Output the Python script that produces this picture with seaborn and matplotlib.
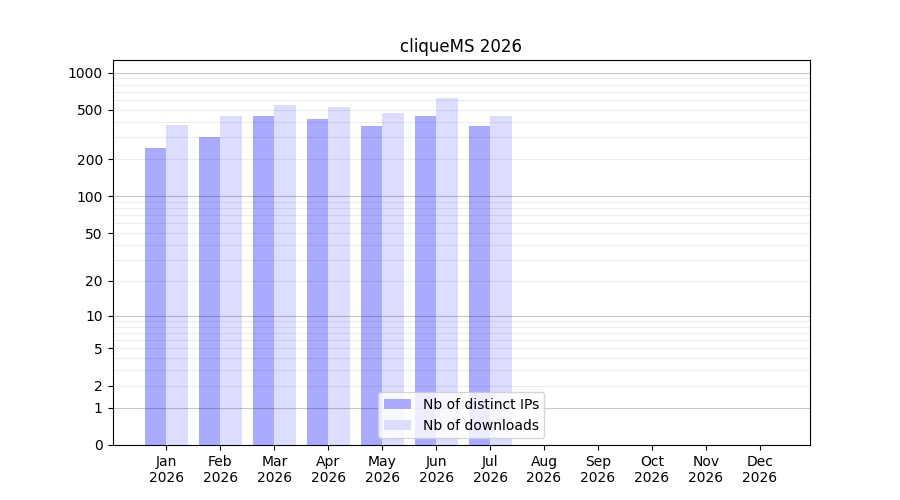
import numpy as np
import pandas as pd
import matplotlib
matplotlib.use("Agg")
import matplotlib.pyplot as plt
import seaborn as sns

# dane
miesiace = ['Jan', 'Feb', 'Mar', 'Apr', 'May', 'Jun', 'Jul', 'Aug', 'Sep', 'Oct', 'Nov', 'Dec']
rok = '2026'
distinct_ips = [247, 303, 448, 423, 372, 448, 372]
downloads = [379, 448, 549, 529, 473, 625, 448]
serie = ['Nb of distinct IPs', 'Nb of downloads']
kolory = ['#aaaaff', '#ddddff']
y_ticki = [0, 1, 2, 5, 10, 20, 50, 100, 200, 500, 1000]

n = len(distinct_ips)
df = pd.DataFrame({
    'miesiac': miesiace[:n] * 2,
    'wartosc': distinct_ips + downloads,
    'seria': [serie[0]] * n + [serie[1]] * n,
})

fig, ax = plt.subplots(figsize=(9, 5), dpi=100)

sns.barplot(data=df, x='miesiac', y='wartosc', hue='seria', order=miesiace,
            hue_order=serie, palette=kolory, saturation=1, width=0.8,
            linewidth=0, ax=ax)

# skala log(1+x)
def fwd(v):
    return np.log10(1 + np.maximum(v, 0))

def inv(v):
    return 10 ** v - 1

ax.set_yscale('function', functions=(fwd, inv))
ax.set_ylim(0, inv(3.102))
ax.set_yticks(y_ticki)
ax.set_yticklabels([str(t) for t in y_ticki])

# linie siatki (polprzezroczyste, nad slupkami)
minor = [m * 10 ** k for k in range(3) for m in range(2, 10)]
for g in minor:
    ax.axhline(g, color='black', alpha=0.07, linewidth=0.8, zorder=3)
for g in [1, 10, 100, 1000]:
    ax.axhline(g, color='black', alpha=0.22, linewidth=0.8, zorder=3)
ax.yaxis.set_minor_locator(matplotlib.ticker.NullLocator())

ax.set_xticks(range(len(miesiace)))
ax.set_xticklabels([f'{m}\n{rok}' for m in miesiace])
ax.set_xlim(-1.0, 11.93)
ax.set_xlabel('')
ax.set_ylabel('')
ax.set_title(f'cliqueMS {rok}')

leg = ax.legend(loc='lower center')
leg.set_zorder(5)

plt.savefig('out.png', dpi=100)
